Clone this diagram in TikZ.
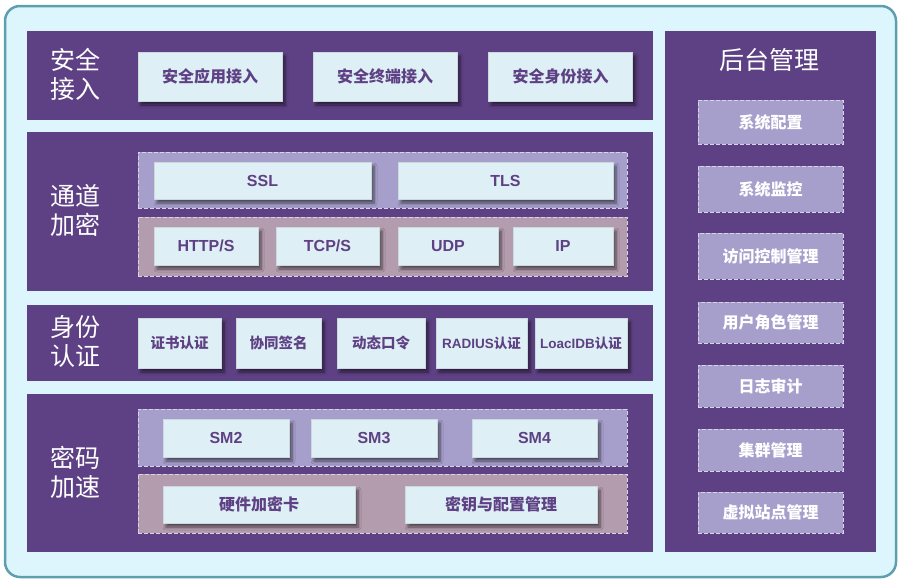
\documentclass[tikz,border=0pt]{standalone}
\usepackage{fontspec}
\newfontfamily\cjk{Noto Sans CJK SC}
\newfontfamily\lat{Liberation Sans}
\usetikzlibrary{shadows.blur}
\definecolor{bgc}{HTML}{DDF6FD}
\definecolor{bdc}{HTML}{5E9FAD}
\definecolor{panc}{HTML}{5E4184}
\definecolor{lavc}{HTML}{A69FCB}
\definecolor{mauc}{HTML}{B39CAE}
\definecolor{boxc}{HTML}{DEF0F5}
\definecolor{txc}{HTML}{5E4184}
\definecolor{dashc}{HTML}{D8D4E8}
\tikzset{
  panel/.style={rectangle, fill=panc, inner sep=0pt, outer sep=0pt},
  subpan/.style={rectangle, draw=dashc, line width=0.9pt, dash pattern=on 4pt off 2pt, inner sep=0pt, outer sep=0pt},
  lbox/.style={rectangle, fill=boxc, draw=boxc!80!gray, line width=0.4pt, inner sep=0pt, outer sep=0pt,
     text=txc, font=\cjk\bfseries\fontsize{16}{19}\selectfont,
     blur shadow={shadow xshift=3pt, shadow yshift=-4pt, shadow blur steps=6, shadow blur radius=3pt, shadow opacity=55}},
  rbox/.style={rectangle, fill=lavc, draw=dashc, line width=0.9pt, dash pattern=on 4pt off 2pt, inner sep=0pt, outer sep=0pt,
     text=white, font=\cjk\bfseries\fontsize{16}{19}\selectfont, minimum width=145pt},
  side/.style={text=white, font=\cjk\fontsize{25}{29}\selectfont, align=center, inner sep=0pt},
  latf/.style={font=\lat\bfseries\fontsize{16}{19}\selectfont}
}
\begin{document}
\begin{tikzpicture}[x=1pt,y=-1pt]
\useasboundingbox (0,0) rectangle (901,581);
\draw[fill=bgc, draw=bdc, line width=2.5pt, rounded corners=15pt] (5,6) rectangle (896,577);
% panels
\node[panel, minimum width=626pt, minimum height=89pt] (p1) at (340,75.5) {};
\node[panel, minimum width=626pt, minimum height=159pt] (p2) at (340,211.5) {};
\node[panel, minimum width=626pt, minimum height=76pt] (p3) at (340,343) {};
\node[panel, minimum width=626pt, minimum height=158pt] (p4) at (340,473) {};
\node[panel, minimum width=211pt, minimum height=521pt] (pr) at (770.5,291.5) {};
% side labels
\node[side] (l1) at (75,74.5) {安全\\接入};
\node[side] (l2) at (75,210) {通道\\加密};
\node[side] (l3) at (75,341.5) {身份\\认证};
\node[side] (l4) at (75,472.5) {密码\\加速};
\node[side] (lr) at (769.5,60) {后台管理};
% panel 1
\node[lbox, minimum width=144pt, minimum height=49pt] (a1) at (210,76.5) {安全应用接入};
\node[lbox, minimum width=144pt, minimum height=49pt] (a2) at (385,76.5) {安全终端接入};
\node[lbox, minimum width=144pt, minimum height=49pt] (a3) at (560.5,76.5) {安全身份接入};
% panel 2
\node[subpan, fill=lavc, minimum width=489pt, minimum height=56pt] (s1) at (382.5,180) {};
\node[subpan, fill=mauc, minimum width=489pt, minimum height=59pt] (s2) at (382.5,246.5) {};
\node[lbox, latf, minimum width=217pt, minimum height=37pt] (b1) at (262.5,180.5) {SSL};
\node[lbox, latf, minimum width=215pt, minimum height=37pt] (b2) at (505.5,180.5) {TLS};
\node[lbox, latf, minimum width=104pt, minimum height=38pt] (c1) at (206,246) {HTTP/S};
\node[lbox, latf, minimum width=103pt, minimum height=38pt] (c2) at (327.5,246) {TCP/S};
\node[lbox, latf, minimum width=100pt, minimum height=38pt] (c3) at (448,246) {UDP};
\node[lbox, latf, minimum width=100pt, minimum height=38pt] (c4) at (563,246) {IP};
% panel 3
\node[lbox, font=\cjk\bfseries\fontsize{14.5}{17}\selectfont, minimum width=83pt, minimum height=50pt] (d1) at (179.5,343) {证书认证};
\node[lbox, font=\cjk\bfseries\fontsize{14.5}{17}\selectfont, minimum width=85pt, minimum height=50pt] (d2) at (278.5,343) {协同签名};
\node[lbox, font=\cjk\bfseries\fontsize{14.5}{17}\selectfont, minimum width=88pt, minimum height=50pt] (d3) at (381,343) {动态口令};
\node[lbox, font=\cjk\bfseries\fontsize{13.5}{16}\selectfont, minimum width=91pt, minimum height=50pt] (d4) at (481.5,343) {{\lat\bfseries RADIUS}认证};
\node[lbox, font=\cjk\bfseries\fontsize{13.5}{16}\selectfont, minimum width=92pt, minimum height=50pt] (d5) at (581,343) {{\lat\bfseries LoacIDB}认证};
% panel 4
\node[subpan, fill=lavc, minimum width=489pt, minimum height=57pt] (s3) at (382.5,437.5) {};
\node[subpan, fill=mauc, minimum width=489pt, minimum height=59pt] (s4) at (382.5,503.5) {};
\node[lbox, latf, minimum width=126pt, minimum height=38pt] (e1) at (226,438) {SM2};
\node[lbox, latf, minimum width=126pt, minimum height=38pt] (e2) at (374,438) {SM3};
\node[lbox, latf, minimum width=125pt, minimum height=38pt] (e3) at (534.5,438) {SM4};
\node[lbox, minimum width=192pt, minimum height=37pt] (f1) at (259,504.5) {硬件加密卡};
\node[lbox, minimum width=192pt, minimum height=37pt] (f2) at (501,504.5) {密钥与配置管理};
% right panel
\node[rbox, minimum height=44pt] (r1) at (770.5,122) {系统配置};
\node[rbox, minimum height=46pt] (r2) at (770.5,189) {系统监控};
\node[rbox, minimum height=46pt] (r3) at (770.5,256) {访问控制管理};
\node[rbox, minimum height=41pt] (r4) at (770.5,322.5) {用户角色管理};
\node[rbox, minimum height=42pt] (r5) at (770.5,386) {日志审计};
\node[rbox, minimum height=42pt] (r6) at (770.5,450) {集群管理};
\node[rbox, minimum height=41pt] (r7) at (770.5,512.5) {虚拟站点管理};
\end{tikzpicture}
\end{document}
